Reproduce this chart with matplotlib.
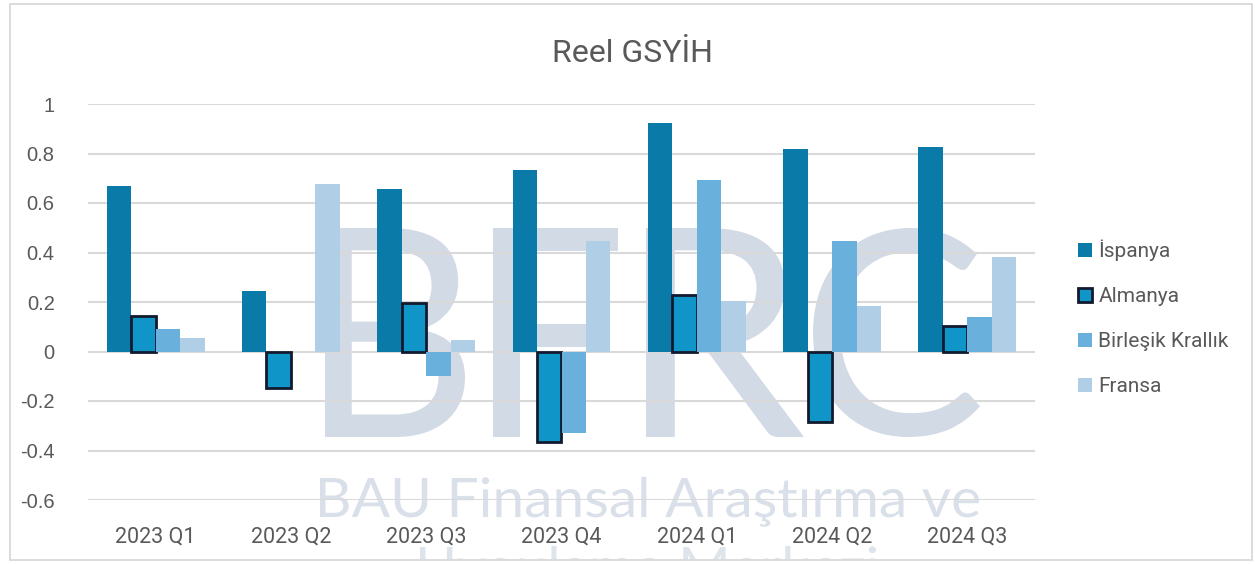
import matplotlib
matplotlib.use('Agg')
import matplotlib.pyplot as plt
import numpy as np
from matplotlib.patches import PathPatch, Rectangle
from matplotlib.textpath import TextPath
from matplotlib.font_manager import FontProperties
from matplotlib.transforms import Affine2D

# data
categories = ['2023 Q1', '2023 Q2', '2023 Q3', '2023 Q4',
              '2024 Q1', '2024 Q2', '2024 Q3']
series_names = ['İspanya', 'Almanya', 'Birleşik Krallık', 'Fransa']
ispanya = [0.670, 0.246, 0.657, 0.734, 0.923, 0.818, 0.826]
almanya = [0.145, -0.149, 0.194, -0.367, 0.230, -0.286, 0.105]
birlesik = [0.089, 0.000, -0.101, -0.331, 0.694, 0.448, 0.141]
fransa = [0.056, 0.677, 0.048, 0.448, 0.206, 0.182, 0.383]
y_ticks = [1, 0.8, 0.6, 0.4, 0.2, 0, -0.2, -0.4, -0.6]

colors = ['#0A7AA8', '#0F95C7', '#6AB0DD', '#B0CFE7']
edges = ['none', '#111A2E', 'none', 'none']
text_col = '#595959'
grid_col = '#D9D9D9'

plt.rcParams['axes.unicode_minus'] = False
W, H = 1255, 564
fig = plt.figure(figsize=(W / 100, H / 100), dpi=100)

# chart border
fig.patches.append(Rectangle((10 / W, 4 / H), 1242 / W, 556 / H,
                             transform=fig.transFigure, fill=False,
                             ec=grid_col, lw=1.3))

# watermark layer, in pixel coordinates (y down)
ax_bg = fig.add_axes([10 / W, 4 / H, 1242 / W, 556 / H], zorder=0)
ax_bg.set_xlim(10, 1252)
ax_bg.set_ylim(560, 4)
ax_bg.axis('off')

wm_font = FontProperties(family='Lato')


def letter(ax, ch, x0, x1, top, bottom, color):
    tp = TextPath((0, 0), ch, size=1, prop=wm_font)
    bb = tp.get_extents()
    tr = Affine2D().translate(-bb.x0, -bb.y0) \
        .scale((x1 - x0) / bb.width, -(bottom - top) / bb.height) \
        .translate(x0, bottom)
    ax.add_patch(PathPatch(tr.transform_path(tp), fc=color, ec='none'))


def stamp(ax, txt, x0, x1, baseline, cap, color):
    cap_h = TextPath((0, 0), 'H', size=1, prop=wm_font).get_extents().height
    tp = TextPath((0, 0), txt, size=1, prop=wm_font)
    bb = tp.get_extents()
    tr = Affine2D().translate(-bb.x0, 0) \
        .scale((x1 - x0) / bb.width, -cap / cap_h) \
        .translate(x0, baseline)
    ax.add_patch(PathPatch(tr.transform_path(tp), fc=color, ec='none'))


wm_col = '#D2DAE5'
for ch, x0, x1 in [('B', 325, 465), ('F', 493, 618),
                   ('R', 646, 804), ('C', 813, 980)]:
    letter(ax_bg, ch, x0, x1, 228, 437, wm_col)
stamp(ax_bg, 'BAU Finansal Araştırma ve', 320, 979, 517, 39, '#DAE0E9')
stamp(ax_bg, 'Uygulama Merkezi', 420, 876, 586, 39, '#DEE4EC')

# main chart
ax = fig.add_axes([88 / W, 64 / H, 947 / W, 396 / H], zorder=1)
ax.set_facecolor('none')
x = np.arange(len(categories))
w = 0.181
for i, (vals, name) in enumerate(zip([ispanya, almanya, birlesik, fransa],
                                     series_names)):
    ax.bar(x + (i - 1.5) * w, vals, w, color=colors[i], label=name,
           edgecolor=edges[i], linewidth=2 if edges[i] != 'none' else 0,
           zorder=3)

ax.set_xlim(-0.5, len(categories) - 0.5)
ax.set_ylim(-0.6, 1.0)
ax.set_yticks(y_ticks)
ax.set_yticklabels(['{:g}'.format(v) for v in y_ticks])
ax.set_xticks(x)
ax.set_xticklabels(categories)
ax.yaxis.grid(True, color=grid_col, lw=1.5, zorder=1)
ax.set_axisbelow(True)
for s in ax.spines.values():
    s.set_visible(False)
ax.tick_params(axis='both', length=0, colors=text_col)
ax.tick_params(axis='y', pad=24)
ax.tick_params(axis='x', pad=19)
for lbl in ax.get_yticklabels():
    lbl.set_fontfamily('Liberation Sans')
    lbl.set_fontsize(14.5)
for lbl in ax.get_xticklabels():
    lbl.set_fontfamily('Roboto')
    lbl.set_fontsize(15.5)

fig.text(633 / W, (H - 62) / H, 'Reel GSYİH', ha='center', va='baseline',
         fontsize=23, color=text_col, family='Roboto')

leg = fig.legend(loc='center left', bbox_to_anchor=(1078 / W, (H - 318) / H),
                 frameon=False, prop={'family': 'Roboto', 'size': 15},
                 handlelength=0.67, handleheight=0.67, handletextpad=0.3,
                 labelspacing=1.25, borderpad=0, borderaxespad=0)
for t in leg.get_texts():
    t.set_color(text_col)

fig.savefig('out.png', dpi=100)
